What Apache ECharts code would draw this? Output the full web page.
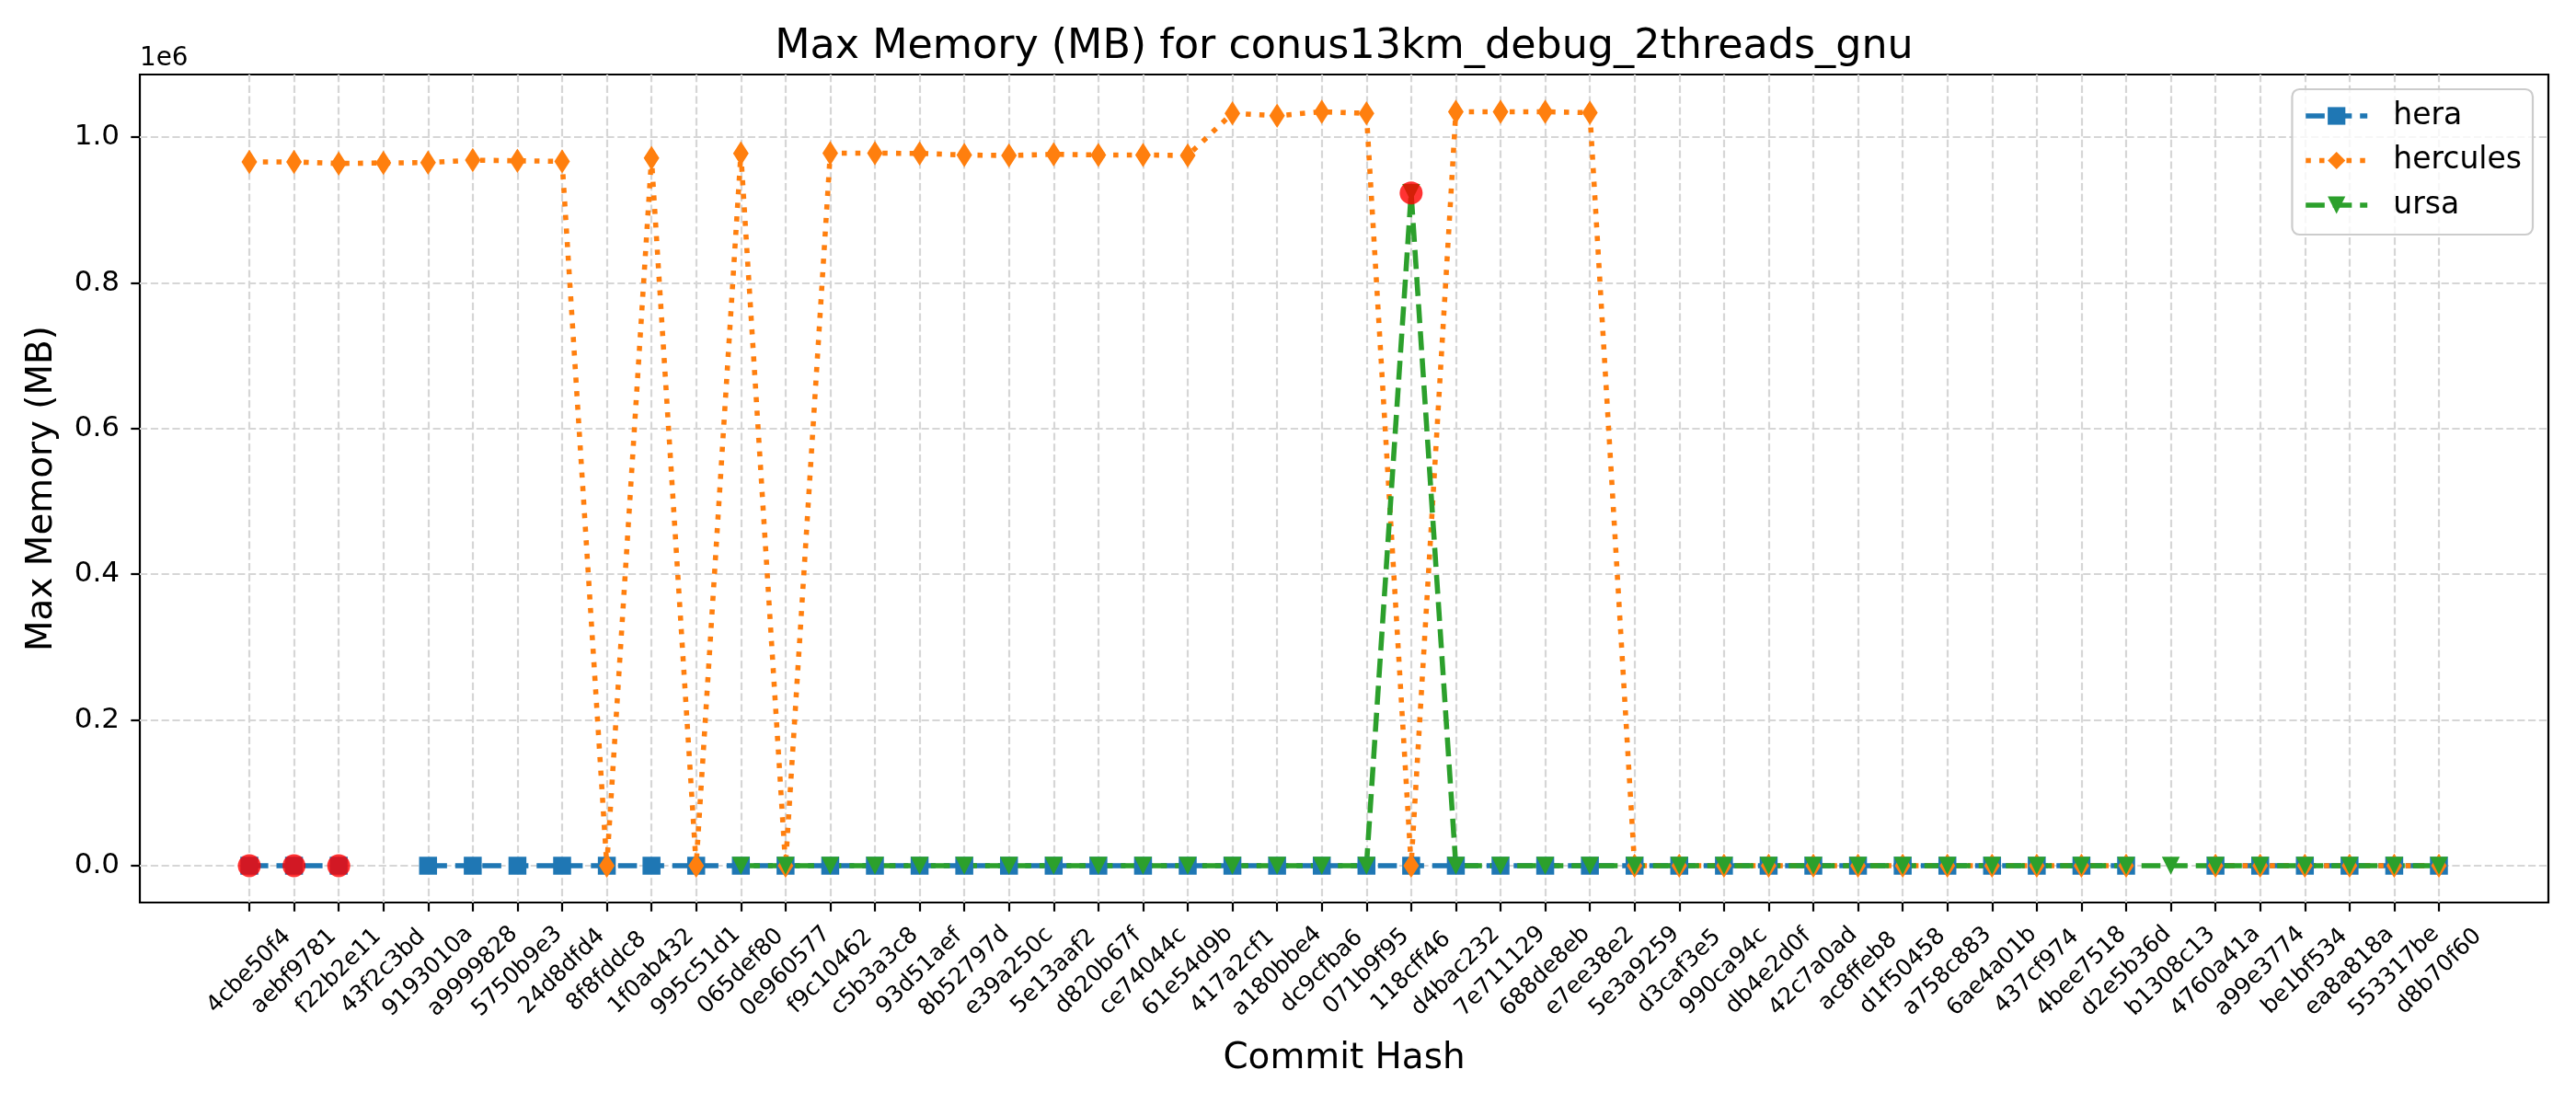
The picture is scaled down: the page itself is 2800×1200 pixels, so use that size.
<!DOCTYPE html>
<html><head><meta charset="utf-8">
<script src="https://cdn.jsdelivr.net/npm/echarts@6/dist/echarts.min.js"></script>
<style>html,body{margin:0;padding:0;background:#fff}#c{width:2800px;height:1200px}</style>
</head><body><div id="c"></div>
<script>
const categories = ['4cbe50f4','aebf9781','f22b2e11','43f2c3bd','9193010a','a9999828','5750b9e3','24d8dfd4','8f8fddc8','1f0ab432',
  '995c51d1','065def80','0e960577','f9c10462','c5b3a3c8','93d51aef','8b52797d','e39a250c','5e13aaf2','d820b67f',
  'ce74044c','61e54d9b','417a2cf1','a180bbe4','dc9cfba6','071b9f95','118cff46','d4bac232','7e711129','688de8eb',
  'e7ee38e2','5e3a9259','d3caf3e5','990ca94c','db4e2d0f','42c7a0ad','ac8ffeb8','d1f50458','a758c883','6ae4a01b',
  '437cf974','4bee7518','d2e5b36d','b1308c13','4760a41a','a99e3774','be1bf534','ea8a818a','553317be','d8b70f60'];

const hera = [0,0,0,'-',0,0,0,0,0,0,
  0,0,0,0,0,0,0,0,0,0,
  0,0,0,0,0,0,0,0,0,0,
  0,0,0,0,0,0,0,0,0,0,
  0,0,0,'-',0,0,0,0,0,0];

const hercules = [966000,966000,963900,964700,965100,968500,967600,966800,0,971400,
  0,977700,0,978000,978000,977700,975600,974800,976500,975600,
  975600,974800,1032800,1029400,1034900,1032800,0,1034900,1034900,1034900,
  1033600,0,0,0,0,0,0,0,0,0,
  0,0,0,'-',0,0,0,0,0,0];

const ursa = ['-','-','-','-','-','-','-','-','-','-',
  '-',0,0,0,0,0,0,0,0,0,
  0,0,0,0,0,0,923400,0,0,0,
  0,0,0,0,0,0,0,0,0,0,
  0,0,0,0,0,0,0,0,0,0];

const anomalyCommits = ['4cbe50f4','aebf9781','f22b2e11','118cff46'];
const anomalyValues = [0,0,0,923400];

const yTicks = [0,200000,400000,600000,800000,1000000];

const tickIdx = categories.map((c, i) => i);
const xMargin = 0.05 * (categories.length - 1);
const toPts = arr => arr.map((v, i) => [i, v]);

const chart = echarts.init(document.getElementById('c'), null, {renderer: 'canvas'});
const FONT = 'DejaVu Sans';
const gridLine = { show: true, lineStyle: { color: '#d6d6d6', width: 2.2, type: [8.2, 3.6] } };

chart.setOption({
  animation: false,
  backgroundColor: '#fff',
  textStyle: { fontFamily: FONT },
  title: [
    { text: 'Max Memory (MB) for conus13km_debug_2threads_gnu', left: 1461, top: 29.5, textAlign: 'center', padding: 0,
      textStyle: { fontFamily: FONT, fontSize: 44.4, fontWeight: 'normal', color: '#000', lineHeight: 44.4 } },
    { text: '1e6', left: 152, top: 49.5, padding: 0,
      textStyle: { fontFamily: FONT, fontSize: 27.8, fontWeight: 'normal', color: '#000', lineHeight: 27.8 } }
  ],
  grid: { left: 152, right: 30, top: 81, bottom: 219, show: true, borderColor: '#000', borderWidth: 2.2,
    backgroundColor: 'transparent', containLabel: false, outerBoundsMode: 'none' },
  legend: {
    data: ['hera', 'hercules', 'ursa'], orient: 'vertical', right: 47, top: 97,
    padding: [11, 12, 14, 12], itemGap: 12.5, itemWidth: 67, itemHeight: 24,
    backgroundColor: 'rgba(255,255,255,0.8)', borderColor: '#cccccc', borderWidth: 2.2, borderRadius: 8,
    lineStyle: { width: 5.56 },
    textStyle: { fontFamily: FONT, fontSize: 33, color: '#000', lineHeight: 36, padding: [0, 0, 0, 23] },
    selectedMode: false, z: 10
  },
  xAxis: {
    type: 'value', min: -xMargin, max: categories.length - 1 + xMargin,
    name: 'Commit Hash', nameLocation: 'middle', nameGap: 150,
    nameTextStyle: { fontFamily: FONT, fontSize: 38.9, color: '#000', lineHeight: 38.9 },
    axisLine: { show: false, onZero: false },
    axisTick: { show: true, customValues: tickIdx, length: 9.7, lineStyle: { color: '#000', width: 2.2 } },
    axisLabel: { customValues: tickIdx, formatter: v => categories[Math.round(v)] || '', rotate: 45,
      align: 'center', verticalAlign: 'middle',
      fontFamily: FONT, fontSize: 25, color: '#000', margin: 75 },
    splitLine: gridLine
  },
  yAxis: {
    type: 'value', min: -50500, max: 1086000,
    name: 'Max Memory (MB)', nameLocation: 'middle', nameGap: 87, nameRotate: 90,
    nameTextStyle: { fontFamily: FONT, fontSize: 38.9, color: '#000', lineHeight: 38.9 },
    axisLine: { show: false, onZero: false },
    axisTick: { show: true, customValues: yTicks, length: 9.7, lineStyle: { color: '#000', width: 2.2 } },
    axisLabel: { customValues: yTicks, formatter: v => (v / 1e6).toFixed(1), fontFamily: FONT, fontSize: 31, color: '#000', margin: 22 },
    splitLine: gridLine
  },
  series: [
    { name: 'hera', type: 'line', data: toPts(hera), symbol: 'rect', symbolSize: 19.5, showAllSymbol: true,
      connectNulls: false, z: 2, emphasis: { disabled: true },
      lineStyle: { color: '#1f77b4', width: 5.56, type: [20.6, 8.9], cap: 'butt' },
      itemStyle: { color: '#1f77b4', borderWidth: 0 } },
    { name: 'hercules', type: 'line', data: toPts(hercules), symbol: 'diamond', symbolSize: [17, 26.4], showAllSymbol: true,
      connectNulls: false, z: 2, emphasis: { disabled: true },
      lineStyle: { color: '#ff7f0e', width: 5.56, type: [5.56, 9.2], cap: 'butt' },
      itemStyle: { color: '#ff7f0e', borderWidth: 0 } },
    { name: 'ursa', type: 'line', data: toPts(ursa), symbol: 'triangle', symbolRotate: 180, symbolSize: 19.5, showAllSymbol: true,
      connectNulls: false, z: 2, emphasis: { disabled: true },
      lineStyle: { color: '#2ca02c', width: 5.56, type: [20.6, 8.9], cap: 'butt' },
      itemStyle: { color: '#2ca02c', borderWidth: 0 } },
    { name: 'anomaly', type: 'scatter', data: anomalyCommits.map((c, k) => [categories.indexOf(c), anomalyValues[k]]),
      symbol: 'circle', symbolSize: 25, z: 3, emphasis: { disabled: true },
      itemStyle: { color: '#ff0000', borderWidth: 0 } }
  ]
});
</script></body></html>
